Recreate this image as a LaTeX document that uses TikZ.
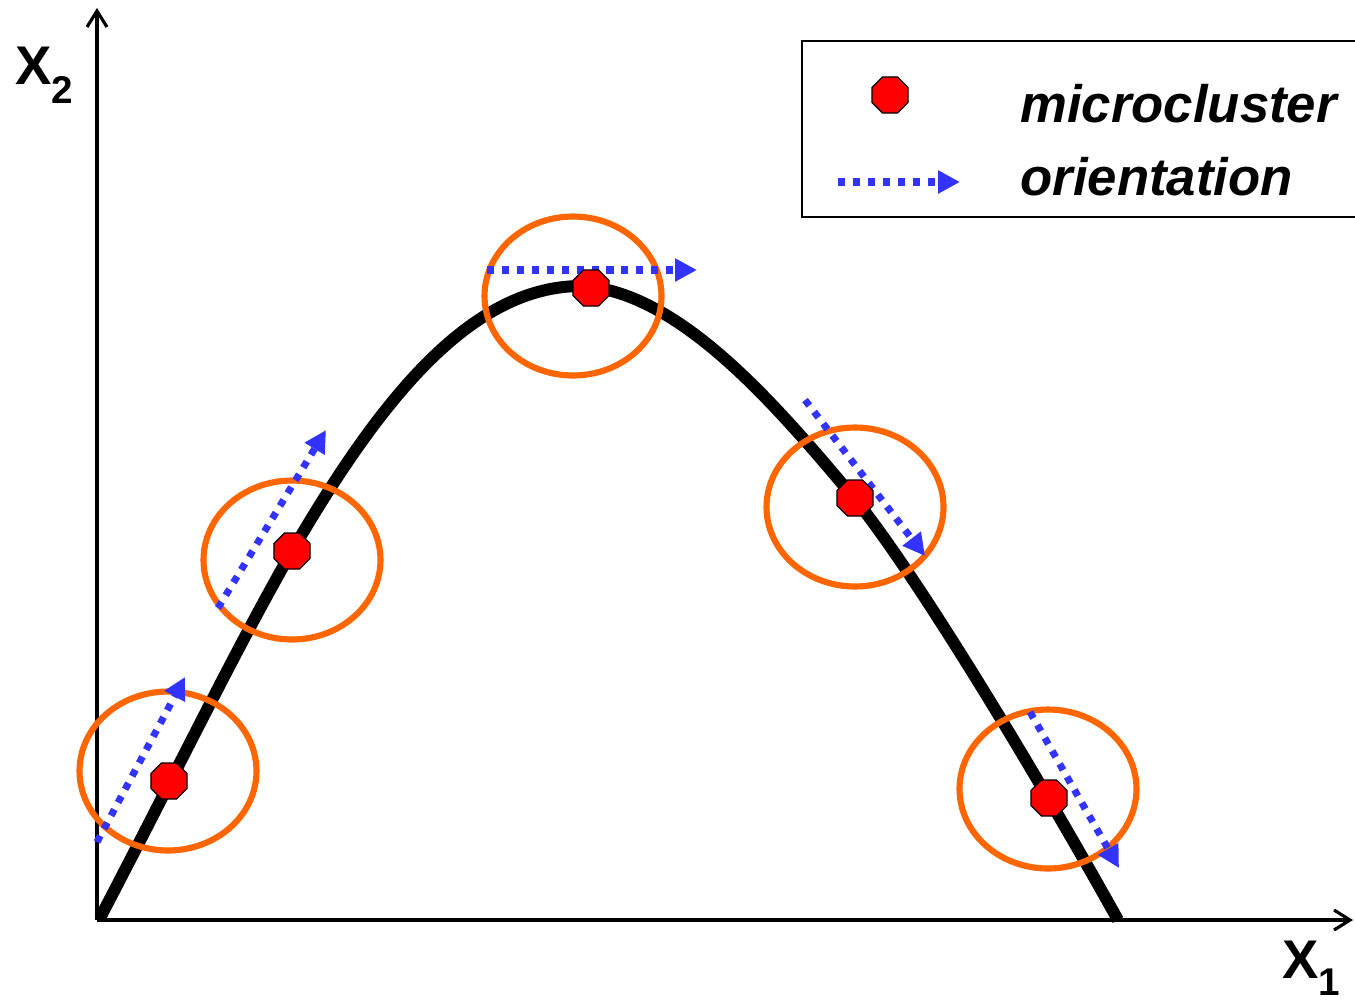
\documentclass[tikz,border=0pt]{standalone}
\usepackage{fontspec}
\setmainfont{Liberation Sans}
\usepackage{xcolor}
\definecolor{mcorange}{RGB}{255,102,0}
\definecolor{mcblue}{RGB}{51,51,255}
\definecolor{mcred}{RGB}{255,0,0}
\usetikzlibrary{arrows.meta, shapes.geometric}

\tikzset{
  axis/.style={black, line width=1.8pt, -{Straight Barb[length=3.2mm,width=4mm]}},
  ridge/.style={black, line width=6.8pt},
  region/.style={draw=mcorange, line width=3.5pt, ellipse, minimum width=3.54cm,
                 minimum height=3.18cm, inner sep=0pt},
  mcluster/.style={draw=black, line width=0.7pt, fill=mcred, regular polygon,
                   regular polygon sides=8, minimum size=0.78cm, inner sep=0pt},
  orient/.style={mcblue, line width=4pt, dash pattern=on 4pt off 4.5pt,
                 -{Triangle[length=4.4mm,width=4.4mm]}},
  axlabel/.style={font=\fontsize{31}{31}\selectfont\bfseries, inner sep=0pt, anchor=base west},
  legtext/.style={font=\fontsize{30}{30}\selectfont\bfseries\itshape, inner sep=0pt, anchor=base west}
}

\begin{document}
\begin{tikzpicture}[x=0.02cm, y=-0.02cm]
\useasboundingbox (0,0) rectangle (1355,1005);

% --- Axes ---
\coordinate (origin) at (97,920);
\coordinate (ytop) at (97,8);
\coordinate (xend) at (1353,920);
\draw[axis] (origin) -- (ytop);
\draw[axis] (origin) -- (xend);
\node[axlabel] (xtwo) at (15,84) {X\raisebox{-11pt}{\fontsize{22}{22}\selectfont 2}};
\node[axlabel] (xone) at (1282,978) {X\raisebox{-10pt}{\fontsize{22}{22}\selectfont 1}};

% --- Data curve ---
\coordinate (cstart) at (100,918);
\coordinate (cpeak) at (580,286);
\coordinate (cend) at (1118,920);
\draw[ridge] (cstart) .. controls (180,765) and (230,660) .. (292,551)
  .. controls (380,400) and (470,287) .. (cpeak)
  .. controls (680,290) and (780,410) .. (855,499)
  .. controls (920,580) and (1040,780) .. (cend);

% --- Cluster regions ---
\node[region] (reg1) at (168,771) {};
\node[region] (reg2) at (292,560) {};
\node[region] (reg3) at (573,296) {};
\node[region] (reg4) at (855,507) {};
\node[region] (reg5) at (1048,789) {};

% --- Orientations ---
\coordinate (o1s) at (97,842);   \coordinate (o1e) at (185,677);
\coordinate (o2s) at (218,608);  \coordinate (o2e) at (326,430);
\coordinate (o3s) at (487,270);  \coordinate (o3e) at (697,270);
\coordinate (o4s) at (805,400);  \coordinate (o4e) at (925,556);
\coordinate (o5s) at (1030,712); \coordinate (o5e) at (1119,868);
\draw[orient] (o1s) -- (o1e);
\draw[orient] (o2s) -- (o2e);
\draw[orient] (o3s) -- (o3e);
\draw[orient] (o4s) -- (o4e);
\draw[orient] (o5s) -- (o5e);

% --- Microclusters ---
\node[mcluster] (mc1) at (169,781) {};
\node[mcluster] (mc2) at (292,551) {};
\node[mcluster] (mc3) at (591,288) {};
\node[mcluster] (mc4) at (855,498) {};
\node[mcluster] (mc5) at (1049,798) {};

% --- Legend ---
\draw[black, line width=1.1pt] (1365,41) -| (802,217) -- (1365,217);
\node[mcluster] (legmc) at (890,95) {};
\node[legtext] (legmctext) at (1020,122) {microcluster};
\coordinate (legos) at (838,182);
\coordinate (legoe) at (960,182);
\draw[orient] (legos) -- (legoe);
\node[legtext] (legotext) at (1020,195) {orientation};

\end{tikzpicture}
\end{document}
